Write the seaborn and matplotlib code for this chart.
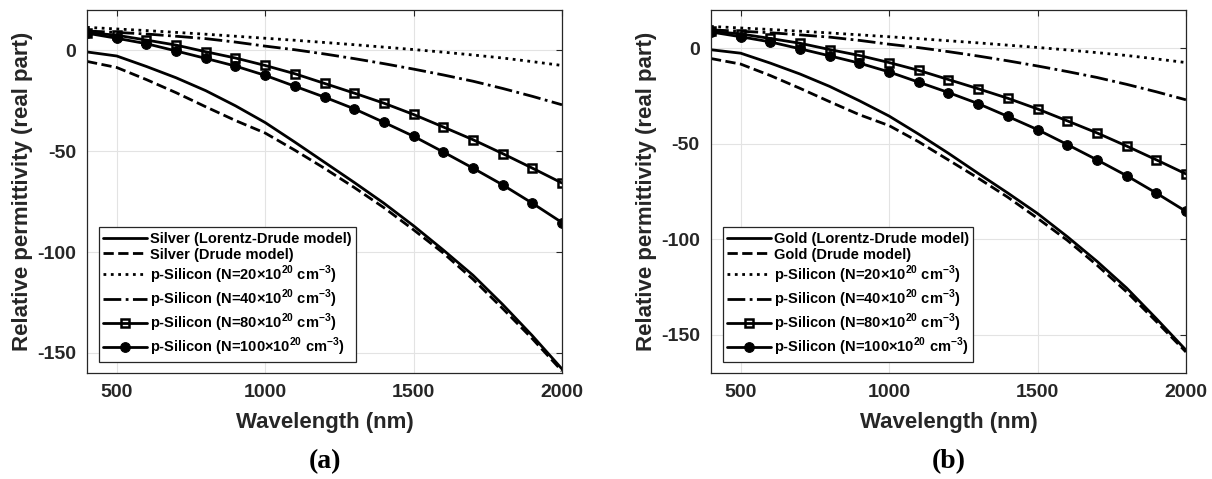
import numpy as np
import pandas as pd
import matplotlib
matplotlib.use('Agg')
import matplotlib.pyplot as plt
import seaborn as sns

# ==================== data ====================
wavelength = [400, 500, 600, 700, 800, 900, 1000, 1100, 1200, 1300, 1400,
              1500, 1600, 1700, 1800, 1900, 2000]

silver_ld = [-0.8, -2.8, -8.0, -13.6, -20.0, -27.5, -35.8, -45.5, -55.5, -65.5, -75.8,
             -87.0, -99.0, -111.5, -126.0, -141.5, -158.0]
silver_drude = [-5.5, -8.5, -14.5, -21.0, -28.0, -34.8, -41.0, -49.5, -58.5, -68.0, -78.0,
                -89.0, -100.5, -113.5, -128.0, -143.0, -159.0]

gold_ld = [-0.8, -2.6, -7.8, -13.5, -20.0, -27.5, -35.5, -45.0, -55.0, -65.5, -75.8,
           -86.5, -98.6, -111.5, -125.5, -141.5, -158.0]
gold_drude = [-5.4, -8.3, -14.3, -21.0, -28.0, -34.8, -40.5, -49.0, -58.5, -68.0, -78.0,
              -89.0, -100.5, -113.5, -127.5, -143.0, -159.0]

psi_20 = [11.4, 10.6, 9.8, 8.9, 8.0, 7.0, 6.0, 5.0, 3.9, 2.8, 1.6,
          0.4, -0.9, -2.3, -3.8, -5.6, -7.5]
psi_40 = [9.6, 8.9, 8.1, 7.0, 5.8, 4.1, 2.1, 0.3, -1.8, -4.1, -6.6,
          -9.3, -12.2, -15.3, -18.9, -22.8, -27.0]
psi_80 = [8.8, 7.5, 5.1, 2.6, -0.7, -3.8, -7.5, -11.6, -16.4, -21.2, -26.2,
          -31.8, -38.0, -44.3, -51.2, -58.4, -65.8]
psi_100 = [8.5, 6.0, 3.3, -0.3, -4.0, -7.8, -12.4, -17.8, -23.2, -29.0, -35.7,
           -42.6, -50.4, -58.4, -66.7, -75.8, -85.4]

psi_labels = [r'p-Silicon (N=20×10$^{\mathbf{20}}$ cm$^{\mathbf{-3}}$)',
              r'p-Silicon (N=40×10$^{\mathbf{20}}$ cm$^{\mathbf{-3}}$)',
              r'p-Silicon (N=80×10$^{\mathbf{20}}$ cm$^{\mathbf{-3}}$)',
              r'p-Silicon (N=100×10$^{\mathbf{20}}$ cm$^{\mathbf{-3}}$)']

x_ticks = [500, 1000, 1500, 2000]
y_ticks = [-150, -100, -50, 0]

# ==================== style ====================
sns.set_theme(style='white')
plt.rcParams['font.family'] = ['Liberation Sans', 'DejaVu Sans']
plt.rcParams['font.weight'] = 'bold'
plt.rcParams['axes.unicode_minus'] = False
plt.rcParams['mathtext.fontset'] = 'custom'
plt.rcParams['mathtext.rm'] = 'Liberation Sans:bold'
plt.rcParams['mathtext.bf'] = 'Liberation Sans:bold'

fig = plt.figure(figsize=(12.12, 4.79), dpi=100)
ax_a = fig.add_axes([0.0718, 0.2213, 0.3919, 0.7578])
ax_b = fig.add_axes([0.5866, 0.2213, 0.3919, 0.7578])


def draw_panel(ax, metal, ld, drude, ylim, tag):
    df = pd.DataFrame({'wl': wavelength, 'ld': ld, 'drude': drude,
                       'p20': psi_20, 'p40': psi_40, 'p80': psi_80, 'p100': psi_100})
    lw = 2.0
    sns.lineplot(data=df, x='wl', y='ld', ax=ax, color='black', lw=lw,
                 label=f'{metal} (Lorentz-Drude model)')
    sns.lineplot(data=df, x='wl', y='drude', ax=ax, color='black', lw=lw, linestyle='--',
                 label=f'{metal} (Drude model)')
    sns.lineplot(data=df, x='wl', y='p20', ax=ax, color='black', lw=lw, linestyle=':',
                 label=psi_labels[0])
    sns.lineplot(data=df, x='wl', y='p40', ax=ax, color='black', lw=lw, linestyle='-.',
                 label=psi_labels[1])
    sns.lineplot(data=df, x='wl', y='p80', ax=ax, color='black', lw=lw, marker='s',
                 markersize=5.5, markerfacecolor='none', markeredgecolor='black',
                 markeredgewidth=1.8, label=psi_labels[2])
    sns.lineplot(data=df, x='wl', y='p100', ax=ax, color='black', lw=lw, marker='o',
                 markersize=7, markerfacecolor='black', markeredgecolor='black',
                 label=psi_labels[3])

    ax.set_xlim(400, 2000)
    ax.set_ylim(*ylim)
    ax.set_xticks(x_ticks)
    ax.set_yticks(y_ticks)
    ax.grid(True, color='#e3e3e3', lw=0.8)
    ax.tick_params(direction='in', top=True, right=True, length=4, width=0.8,
                   labelsize=14, colors='#262626', pad=8)
    for lab in ax.get_xticklabels() + ax.get_yticklabels():
        lab.set_fontweight('bold')
    for sp in ax.spines.values():
        sp.set_color('#262626')
        sp.set_linewidth(0.9)
        sp.set_visible(True)
    ax.set_xlabel('Wavelength (nm)', fontsize=16, fontweight='bold', color='#262626', labelpad=8)
    ax.set_ylabel('Relative permittivity (real part)', fontsize=16, fontweight='bold',
                  color='#262626', labelpad=3)

    leg = ax.legend(loc='lower left', bbox_to_anchor=(0.025, 0.03), borderaxespad=0,
                    fontsize=10.5, handlelength=3.0, handletextpad=0.2,
                    labelspacing=0.12, borderpad=0.3, frameon=True, fancybox=False,
                    framealpha=1)
    leg.get_frame().set_edgecolor('#262626')
    leg.get_frame().set_linewidth(0.9)
    for t in leg.get_texts():
        t.set_fontweight('bold')
        t.set_color('black')

    ax.text(0.5, -0.245, tag, transform=ax.transAxes, ha='center', va='center',
            fontsize=20, fontweight='bold', family='Liberation Serif', color='black')


draw_panel(ax_a, 'Silver', silver_ld, silver_drude, (-160, 20), '(a)')
draw_panel(ax_b, 'Gold', gold_ld, gold_drude, (-170, 20), '(b)')

fig.savefig('out.png', dpi=100)
